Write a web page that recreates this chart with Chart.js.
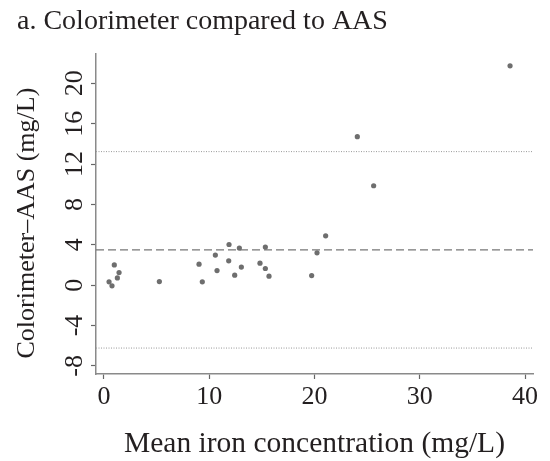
<!DOCTYPE html>
<html><head><meta charset="utf-8">
<script src="https://cdn.jsdelivr.net/npm/chart.js@4/dist/chart.umd.min.js"></script>
<style>html,body{margin:0;padding:0;background:#fff}#wrap{width:550px;height:461px}</style>
</head><body><div id="wrap"><canvas id="c" width="550" height="461"></canvas></div>
<script>
const chartTitle = 'a. Colorimeter compared to AAS';
const xTitle = 'Mean iron concentration (mg/L)';
const yTitle = 'Colorimeter\u2013AAS (mg/L)\u2002\u2009';
const meanConc = [0.48, 0.76, 0.98, 1.27, 1.43, 5.26, 9.03, 9.34, 10.58, 10.74, 11.88, 11.85, 12.42, 12.86, 13.05, 14.82, 15.33, 15.33, 15.68, 19.73, 20.24, 21.06, 24.07, 25.62, 38.58];
const diffs    = [0.33, -0.07, 2.01, 0.72, 1.25, 0.36, 2.08, 0.33, 2.98, 1.45, 4.03, 2.41, 0.99, 3.67, 1.79, 2.18, 3.77, 1.65, 0.89, 0.95, 3.2, 4.89, 14.71, 9.85, 21.73];
const meanDiff = 3.5;
const upperLimit = 13.23;
const lowerLimit = -6.23;
const xTicks = [0, 10, 20, 30, 40];
const yTicks = [-8, -4, 0, 4, 8, 12, 16, 20];
const xRange = [-0.76, 40.76];
const yRange = [-8.8, 22.9];

const FONT = "'Liberation Serif', 'Times New Roman', serif";
const TXT = '#231f20';

function hLine(v) { return [{x: xRange[0], y: v}, {x: xRange[1], y: v}]; }

new Chart(document.getElementById('c'), {
  type: 'scatter',
  data: {
    datasets: [
      { data: meanConc.map((x, i) => ({x, y: diffs[i]})), pointRadius: 2.6, pointBackgroundColor: '#6e6e6e', pointBorderWidth: 0, showLine: false },
      { data: hLine(meanDiff), showLine: true, borderColor: '#777', borderWidth: 1.3, borderDash: [8, 4], pointRadius: 0 },
      { data: hLine(upperLimit), showLine: true, borderColor: '#999', borderWidth: 1, borderDash: [1, 1.5], pointRadius: 0 },
      { data: hLine(lowerLimit), showLine: true, borderColor: '#999', borderWidth: 1, borderDash: [1, 1.5], pointRadius: 0 }
    ]
  },
  options: {
    responsive: false, animation: false, devicePixelRatio: 1,
    layout: { padding: { left: 17, right: 17, top: 0, bottom: 0 } },
    plugins: {
      legend: { display: false }, tooltip: { enabled: false },
      title: { display: true, text: chartTitle, align: 'start', color: TXT,
        font: { family: FONT, size: 28, weight: 'normal', lineHeight: 1.2 }, padding: { top: 4.7, bottom: 15.7 } }
    },
    scales: {
      x: {
        type: 'linear', min: xRange[0], max: xRange[1],
        afterBuildTicks: s => { s.ticks = xTicks.map(v => ({value: v})); },
        afterFit: s => { s.height = 87; s.paddingLeft = 0; s.paddingRight = 0; },
        border: { display: true, color: '#8a8a8a', width: 1.5 },
        grid: { drawOnChartArea: false, drawTicks: true, tickLength: 5, color: '#666', tickWidth: 1.2 },
        ticks: { autoSkip: false, maxRotation: 0, minRotation: 0, padding: 3, color: TXT, font: { family: FONT, size: 26 } },
        title: { display: true, text: xTitle, color: TXT, font: { family: FONT, size: 29.5, lineHeight: 1.2 }, padding: { top: 0, bottom: -1 } }
      },
      y: {
        type: 'linear', min: yRange[0], max: yRange[1],
        afterBuildTicks: s => { s.ticks = yTicks.map(v => ({value: v})); },
        afterFit: s => { s.width = 79; s.paddingTop = 0; s.paddingBottom = 0; },
        border: { display: true, color: '#8a8a8a', width: 1.5 },
        grid: { drawOnChartArea: false, drawTicks: true, tickLength: 5, color: '#666', tickWidth: 1.2 },
        ticks: { autoSkip: false, minRotation: 90, maxRotation: 90, crossAlign: 'center', padding: 3, color: TXT, font: { family: FONT, size: 26 } },
        title: { display: true, text: yTitle, color: TXT, font: { family: FONT, size: 26, lineHeight: 0.8 }, padding: { top: 0.1, bottom: 0 } }
      }
    }
  }
});
</script></body></html>
